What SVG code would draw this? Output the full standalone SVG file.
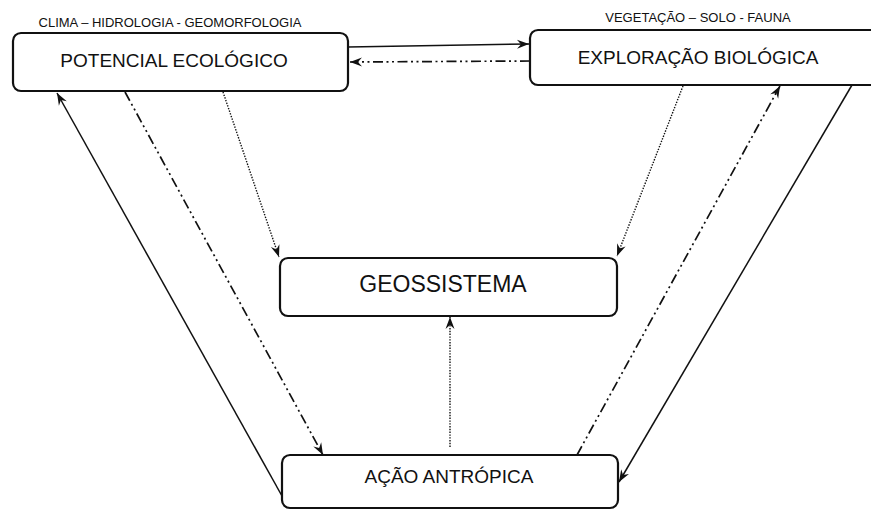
<svg xmlns="http://www.w3.org/2000/svg" width="871" height="510" viewBox="0 0 871 510">
<defs>
<style>
.box{fill:#fff;stroke:#111;stroke-width:2.2}
.t{font-family:"Liberation Sans",Arial,sans-serif;fill:#111;text-anchor:middle}
.lbl{font-family:"Liberation Sans",Arial,sans-serif;fill:#111;text-anchor:middle;font-size:13px}
.c{fill:none;stroke:#111;stroke-width:1.5}
.dd{stroke-dasharray:10 3.5 2 3.5 2 3.5;stroke-width:1.7}
.dot{stroke-dasharray:1.4 1.4;stroke-width:1.4}
</style>
<marker id="ah" viewBox="-13 -6 14 12" refX="0" refY="0" markerWidth="14" markerHeight="12" markerUnits="userSpaceOnUse" orient="auto">
<path d="M0,0 L-12,-4.5 L-8,0 L-12,4.5 Z" fill="#111"/>
</marker>
</defs>
<rect width="871" height="510" fill="#fff"/>
<g id="connectors">
<line class="c" x1="348" y1="47" x2="529" y2="44" marker-end="url(#ah)"/>
<line class="c dd" x1="530" y1="61" x2="350" y2="62" marker-end="url(#ah)"/>
<line class="c" x1="282" y1="496" x2="57" y2="93" marker-end="url(#ah)"/>
<line class="c dd" x1="125" y1="92" x2="323" y2="455" marker-end="url(#ah)"/>
<line class="c dot" x1="223" y1="92" x2="279" y2="257" marker-end="url(#ah)"/>
<line class="c dot" x1="683" y1="86" x2="617" y2="256" marker-end="url(#ah)"/>
<line class="c dd" x1="577" y1="455" x2="780" y2="86" marker-end="url(#ah)"/>
<line class="c" x1="852" y1="85" x2="619" y2="482" marker-end="url(#ah)"/>
<line class="c dot" x1="450" y1="447" x2="450" y2="317" marker-end="url(#ah)"/>
</g>
<g id="potencial">
<text class="lbl" x="170" y="27">CLIMA – HIDROLOGIA - GEOMORFOLOGIA</text>
<rect class="box" x="13" y="33" width="335" height="58" rx="8"/>
<text class="t" x="174" y="67" font-size="19">POTENCIAL ECOLÓGICO</text>
</g>
<g id="exploracao">
<text class="lbl" x="698" y="22">VEGETAÇÃO – SOLO - FAUNA</text>
<rect class="box" x="530" y="30" width="350" height="55" rx="8"/>
<text class="t" x="698" y="64" font-size="19">EXPLORAÇÃO BIOLÓGICA</text>
</g>
<g id="geossistema">
<rect class="box" x="280" y="258" width="337" height="58" rx="8"/>
<text class="t" x="443" y="292" font-size="23">GEOSSISTEMA</text>
</g>
<g id="acao">
<rect class="box" x="282" y="455" width="336" height="53" rx="8"/>
<text class="t" x="449" y="483" font-size="19">AÇÃO ANTRÓPICA</text>
</g>
</svg>
